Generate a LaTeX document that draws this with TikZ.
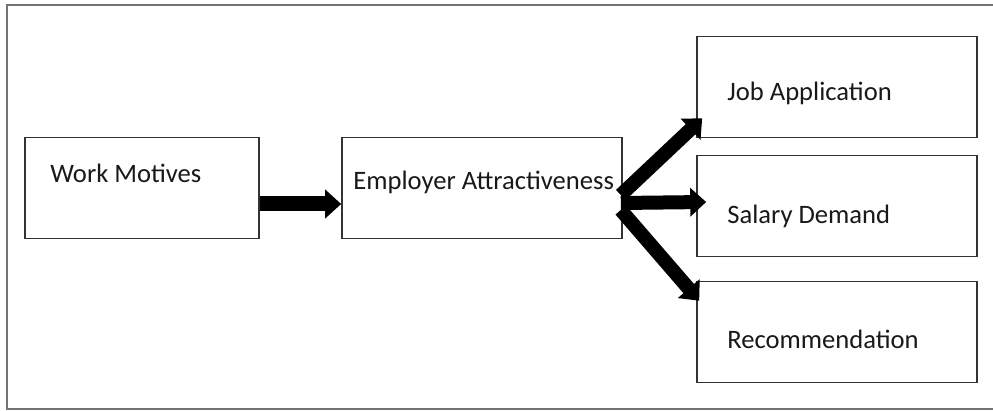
\documentclass[tikz,border=0pt]{standalone}
\usepackage{fontspec}
\setmainfont{Carlito}
\usetikzlibrary{arrows.meta,positioning}

\begin{document}
\begin{tikzpicture}[x=0.5pt, y=-0.5pt,
    box/.style={draw=black!80, line width=0.8pt, fill=white, minimum width=140pt, minimum height=50.5pt, inner sep=0pt},
    lbl/.style={anchor=west, inner sep=0pt, text=black!90, font=\fontsize{13.3}{15}\selectfont},
    fat/.style={line width=7pt, -{Triangle[length=8pt, width=14pt]}}]
    \useasboundingbox (0,0) rectangle (993,411);
    % outer frame, runs off the right side
    \draw[black!55, line width=1.3pt] (1010,5) -- (7,5) -- (7,409) -- (1010,409);
    % boxes
    \node[box, minimum width=117pt] (motives) at (142,188) {};
    \node[box] (employer) at (482,188) {};
    \node[box] (jobapp) at (837,87) {};
    \node[box] (salary) at (837,206) {};
    \node[box] (recommend) at (837,332) {};
    % box texts
    \node[lbl] (motives-txt) at (50,173) {Work Motives};
    \node[lbl] (employer-txt) at (353,182) {Employer Attractiveness};
    \node[lbl] (jobapp-txt) at (727,93) {Job Application};
    \node[lbl] (salary-txt) at (727,216) {Salary Demand};
    \node[lbl] (recommend-txt) at (727,339) {Recommendation};
    % arrows
    \draw[fat, line width=7.5pt] ([yshift=-8pt]motives.east) -- ([yshift=-8pt]employer.west);
    \draw[fat] ([xshift=-1pt,yshift=-3.5pt]employer.east) -- ([xshift=3pt,yshift=10pt]jobapp.south west);
    \draw[fat] ([xshift=-1pt,yshift=-7.5pt]employer.east) -- ([xshift=5pt,yshift=2pt]salary.west);
    \draw[fat] ([xshift=-1pt,yshift=-11pt]employer.east) -- ([xshift=1.5pt,yshift=-10pt]recommend.north west);
\end{tikzpicture}
\end{document}
